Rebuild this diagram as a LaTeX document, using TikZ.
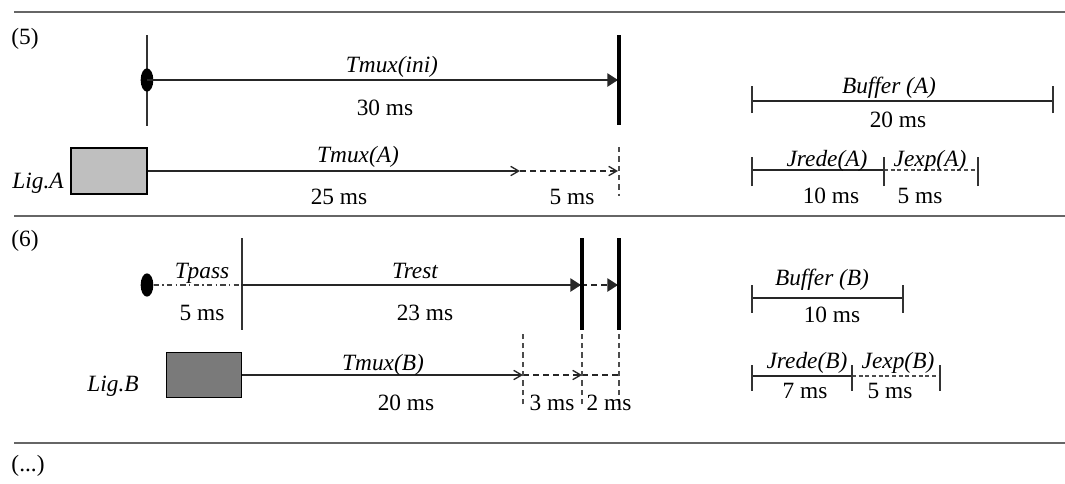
\documentclass[tikz,border=0pt]{standalone}
\usepackage{fontspec}
\setmainfont{Liberation Serif}
\usetikzlibrary{arrows.meta,shapes.geometric}
\tikzset{
  lbl/.style={inner sep=0pt,anchor=base,font=\fontsize{17.5}{19}\selectfont},
  ilbl/.style={lbl,font=\fontsize{17.5}{19}\selectfont\itshape},
  sep/.style={line width=2.2pt,draw=black!60},
  tline/.style={line width=1.1pt,draw=black!85},
  thick bar/.style={line width=2.3pt,draw=black},
  thin bar/.style={line width=1pt,draw=black!80},
  dsh/.style={tline,dash pattern=on 4.5pt off 3pt},
  fdsh/.style={line width=1pt,draw=black!70,dash pattern=on 3pt off 2pt},
  vdsh/.style={line width=0.9pt,draw=black!70,dash pattern=on 4pt off 3pt},
  solidtip/.style={-{Triangle[length=8pt,width=10pt]}},
  opentip/.style={-{Straight Barb[length=6pt,width=7pt,line width=1pt]}},
  dot/.style={ellipse,fill=black,inner sep=0pt,minimum width=9.5pt,minimum height=17.5pt},
  box/.style={draw=black,line width=1pt,inner sep=0pt}
}
\begin{document}
\begin{tikzpicture}[x=0.75pt,y=-0.75pt]
\useasboundingbox[fill=white] (0,0) rectangle (1065,483);

% section separators
\coordinate (s1a) at (14,12);  \coordinate (s1b) at (1065,12);
\coordinate (s2a) at (14,216); \coordinate (s2b) at (1065,216);
\coordinate (s3a) at (14,443); \coordinate (s3b) at (1065,443);
\draw[sep] (s1a) -- (s1b);
\draw[sep] (s2a) -- (s2b);
\draw[sep] (s3a) -- (s3b);

\node[lbl,anchor=center] (n5) at (25,39) {(5)};
\node[lbl,anchor=center] (n6) at (25,241) {(6)};
\node[lbl,anchor=center] (ndots) at (28,466) {(...)};

% ---------------- step (5) ----------------
\coordinate (iniT) at (147,35); \coordinate (iniB) at (147,126);
\draw[thin bar] (iniT) -- (iniB);
\node[dot] (dotA) at (147,80) {};
\coordinate (endT) at (619,35); \coordinate (endB) at (619,125);
\coordinate (iniE) at (618,80);
\draw[tline,solidtip] (dotA.center) -- (iniE);
\draw[thick bar] (endT) -- (endB);
\node[ilbl] (tmuxini) at (392,72) {Tmux(ini)};
\node[lbl] (t30) at (385,115) {30 ms};

\node[box,fill=black!25,minimum width=57pt,minimum height=34.5pt] (ligA) at (109,171) {};
\node[ilbl] (ligAl) at (38,188) {Lig.A};
\coordinate (tA1) at (520,171); \coordinate (tA2) at (618,171);
\draw[tline,opentip] (ligA.east) -- (tA1);
\draw[dsh,opentip] (tA1) -- (tA2);
\coordinate (vAT) at (619,147); \coordinate (vAB) at (619,196);
\draw[vdsh] (vAT) -- (vAB);
\node[ilbl] (tmuxA) at (358,162) {Tmux(A)};
\node[lbl] (t25) at (339,204) {25 ms};
\node[lbl] (t5a) at (572,204) {5 ms};

% buffer A
\coordinate (bA0) at (752,101); \coordinate (bA1) at (1053,101);
\draw[tline] (bA0) -- (bA1);
\draw[thin bar] ([yshift=-9]bA0) -- ([yshift=11]bA0);
\draw[thin bar] ([yshift=-9]bA1) -- ([yshift=11]bA1);
\node[ilbl] (bufA) at (889,93) {Buffer (A)};
\node[lbl] (t20a) at (898,127) {20 ms};

\coordinate (jA0) at (752,170); \coordinate (jA1) at (884,170); \coordinate (jA2) at (978,170);
\draw[tline] (jA0) -- (jA1);
\draw[fdsh] (jA1) -- (jA2);
\foreach \p in {jA0,jA1,jA2} \draw[thin bar] ([yshift=-12]\p) -- ([yshift=10]\p);
\node[ilbl] (jredeA) at (827,166) {Jrede(A)};
\node[ilbl] (jexpA) at (930,166) {Jexp(A)};
\node[lbl] (t10a) at (831,203) {10 ms};
\node[lbl] (t5b) at (920,203) {5 ms};

% ---------------- step (6) ----------------
\node[dot] (dotB) at (147,285) {};
\coordinate (pE) at (241,285);
\draw[line width=1pt,draw=black!75,dash pattern=on 4pt off 2.5pt on 1pt off 2.5pt] (dotB.east) -- (pE);
\coordinate (pT) at (242,238); \coordinate (pB) at (242,330);
\draw[thin bar] (pT) -- (pB);
\node[ilbl] (tpass) at (202,278) {Tpass};
\node[lbl] (t5c) at (202,320) {5 ms};

\coordinate (r1) at (581,285); \coordinate (r2) at (618,285);
\draw[tline,solidtip] (pE) -- (r1);
\draw[dsh,solidtip] (r1) -- (r2);
\coordinate (r1T) at (582,238); \coordinate (r1B) at (582,330);
\coordinate (r2T) at (619,238); \coordinate (r2B) at (619,330);
\draw[thick bar] (r1T) -- (r1B);
\draw[thick bar] (r2T) -- (r2B);
\node[ilbl] (trest) at (415,278) {Trest};
\node[lbl] (t23) at (425,320) {23 ms};

\node[box,fill=black!52,minimum width=56pt,minimum height=34pt] (ligB) at (204,375) {};
\node[ilbl] (ligBl) at (113,391) {Lig.B};
\coordinate (m1) at (523,375); \coordinate (m2) at (582,375); \coordinate (m3) at (619,375);
\draw[tline,opentip] (ligB.east) -- (m1);
\draw[dsh,opentip] (m1) -- (m2);
\draw[dsh] (m2) -- (m3);
\foreach \p in {m1,m2,m3} \draw[vdsh] ([yshift=-22]\p) -- ([yshift=32]\p);
\node[ilbl] (tmuxB) at (383,370) {Tmux(B)};
\node[lbl] (t20b) at (406,410) {20 ms};
\node[lbl] (t3) at (552,410) {3 ms};
\node[lbl] (t2) at (609,410) {2 ms};

% buffer B
\coordinate (bB0) at (752,298); \coordinate (bB1) at (903,298);
\draw[tline] (bB0) -- (bB1);
\draw[thin bar] ([yshift=-11]bB0) -- ([yshift=10]bB0);
\draw[thin bar] ([yshift=-11]bB1) -- ([yshift=10]bB1);
\node[ilbl] (bufB) at (822,285) {Buffer (B)};
\node[lbl] (t10b) at (832,322) {10 ms};

\coordinate (jB0) at (752,376); \coordinate (jB1) at (852,376); \coordinate (jB2) at (940,376);
\draw[tline] (jB0) -- (jB1);
\draw[fdsh] (jB1) -- (jB2);
\foreach \p in {jB0,jB1,jB2} \draw[thin bar] ([yshift=-11]\p) -- ([yshift=8]\p);
\node[ilbl] (jredeB) at (807,368) {Jrede(B)};
\node[ilbl] (jexpB) at (898,368) {Jexp(B)};
\node[lbl] (t7) at (805,398) {7 ms};
\node[lbl] (t5d) at (890,398) {5 ms};
\end{tikzpicture}
\end{document}
